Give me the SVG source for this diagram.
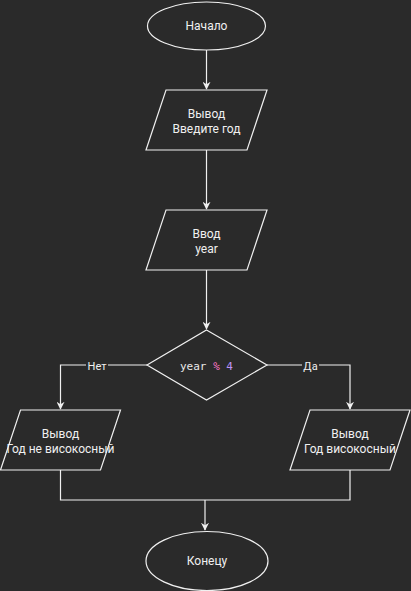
<svg xmlns="http://www.w3.org/2000/svg" width="411" height="591" viewBox="0 0 411 591">
<defs>
<marker id="arr" viewBox="0 0 10 10" refX="9" refY="5" markerWidth="8" markerHeight="8" markerUnits="userSpaceOnUse" orient="auto">
<path d="M0,0 L10,5 L0,10 L3,5 Z" fill="#f0f0f0"/>
</marker>
<style>
.shape{fill:#2a2a2a;stroke:#f0f0f0;stroke-width:1.2}
.edge{fill:none;stroke:#f0f0f0;stroke-width:1.2}
.t{font-family:Roboto,"Liberation Sans",Arial,sans-serif;font-size:12px;fill:#f0f0f0;text-anchor:middle;dominant-baseline:central}
.lbl{font-family:Roboto,"Liberation Sans",Arial,sans-serif;font-size:11px;fill:#f0f0f0;text-anchor:middle;dominant-baseline:central}
.code{font-family:"DejaVu Sans Mono","Liberation Mono",monospace;font-size:11px;dominant-baseline:central}
</style>
</defs>
<rect width="411" height="591" fill="#2a2a2a"/>
<g id="connectors">
<line class="edge" x1="206.5" y1="50" x2="206.5" y2="89" marker-end="url(#arr)"/>
<line class="edge" x1="206.5" y1="150" x2="206.5" y2="209" marker-end="url(#arr)"/>
<line class="edge" x1="206.5" y1="270" x2="206.5" y2="329" marker-end="url(#arr)"/>
<polyline class="edge" points="147,365 60.5,365 60.5,409" marker-end="url(#arr)"/>
<polyline class="edge" points="267,365 350,365 350,409" marker-end="url(#arr)"/>
<polyline class="edge" points="60.5,470 60.5,500 350,500 350,470"/>
<line class="edge" x1="205" y1="500" x2="205" y2="530" marker-end="url(#arr)"/>
<rect x="86" y="358" width="22" height="14" fill="#2a2a2a"/>
<text class="lbl" x="97" y="366">Нет</text>
<rect x="302" y="358" width="17" height="14" fill="#2a2a2a"/>
<text class="lbl" x="310.5" y="366">Да</text>
</g>
<g id="start">
<ellipse class="shape" cx="206.5" cy="26" rx="59" ry="24"/>
<text class="t" x="206.5" y="26">Начало</text>
</g>
<g id="out1">
<polygon class="shape" points="166,90 267,90 247,150 146,150"/>
<text class="t" x="206.5" y="114">Вывод</text>
<text class="t" x="206.5" y="129">Введите год</text>
</g>
<g id="in1">
<polygon class="shape" points="166,210 267,210 247,270 146,270"/>
<text class="t" x="206.5" y="234">Ввод</text>
<text class="t" x="206.5" y="249">year</text>
</g>
<g id="cond">
<polygon class="shape" points="206.5,330 267,365 206.5,400 147,365"/>
<text class="code" x="206.5" y="366" text-anchor="middle"><tspan fill="#e8e8e8">year </tspan><tspan fill="#ff79c6">%</tspan><tspan fill="#bd93f9"> 4</tspan></text>
</g>
<g id="no">
<polygon class="shape" points="20.5,410 120.5,410 100.5,470 0.5,470"/>
<text class="t" x="60.5" y="434">Вывод</text>
<text class="t" x="60.5" y="449">Год не високосный</text>
</g>
<g id="yes">
<polygon class="shape" points="310,410 410,410 390,470 290,470"/>
<text class="t" x="350" y="434">Вывод</text>
<text class="t" x="350" y="449">Год високосный</text>
</g>
<g id="end">
<ellipse class="shape" cx="207" cy="561" rx="61" ry="29.5"/>
<text class="t" x="207" y="561">Конецу</text>
</g>
</svg>
